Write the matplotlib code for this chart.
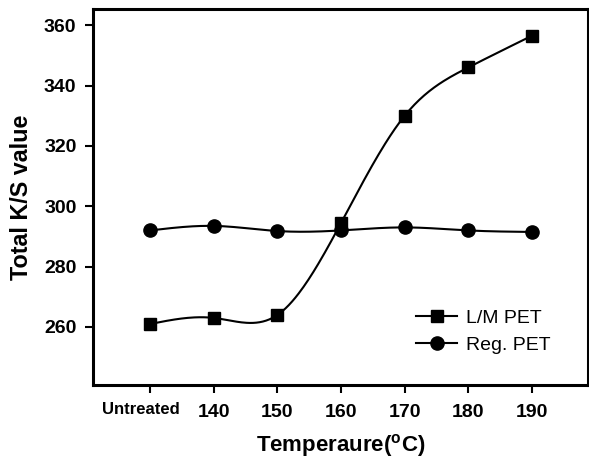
import matplotlib
matplotlib.use("Agg")
import matplotlib.pyplot as plt
import matplotlib.transforms as mtransforms
import numpy as np

plt.rcParams['font.family'] = ['Liberation Sans', 'DejaVu Sans']
plt.rcParams['mathtext.fontset'] = 'custom'
plt.rcParams['mathtext.rm'] = 'Liberation Sans:bold'

# data
categories = ['Untreated', '140', '150', '160', '170', '180', '190']
lm_pet = [261, 263, 264, 294.5, 330, 346, 356.5]
reg_pet = [292, 293.5, 291.8, 292, 293, 292, 291.5]


def smooth(x, y, n=40):
    # natural cubic spline through the points, for the curved connecting line
    x = np.asarray(x, float)
    y = np.asarray(y, float)
    k = len(x)
    h = np.diff(x)
    A = np.zeros((k, k))
    b = np.zeros(k)
    A[0, 0] = A[-1, -1] = 1
    for i in range(1, k - 1):
        A[i, i - 1] = h[i - 1]
        A[i, i] = 2 * (h[i - 1] + h[i])
        A[i, i + 1] = h[i]
        b[i] = 3 * ((y[i + 1] - y[i]) / h[i] - (y[i] - y[i - 1]) / h[i - 1])
    c = np.linalg.solve(A, b)
    xs, ys = [], []
    for i in range(k - 1):
        t = np.linspace(0, h[i], n)
        bi = (y[i + 1] - y[i]) / h[i] - h[i] * (2 * c[i] + c[i + 1]) / 3
        di = (c[i + 1] - c[i]) / (3 * h[i])
        xs.append(x[i] + t)
        ys.append(y[i] + bi * t + c[i] * t ** 2 + di * t ** 3)
    return np.concatenate(xs), np.concatenate(ys)


x = np.arange(len(categories))

fig = plt.figure(figsize=(5.89, 4.61), dpi=100)
ax = fig.add_axes([0.158, 0.165, 0.840, 0.815])

for vals, mk, ms, lab in [(lm_pet, 's', 9, 'L/M PET'), (reg_pet, 'o', 9.5, 'Reg. PET')]:
    sx, sy = smooth(x, vals)
    ax.plot(sx, sy, color='black', lw=1.5)
    ax.plot(x, vals, linestyle='none', marker=mk, ms=ms, color='black')
    ax.plot([], [], color='black', lw=1.5, marker=mk, ms=ms, label=lab)

ax.set_xlim(-0.9, 6.88)
ax.set_ylim(240.8, 365.3)
ax.set_yticks(range(260, 361, 20))
ax.set_xticks(x)
ax.set_xticklabels(categories)

for s in ax.spines.values():
    s.set_linewidth(2.2)
ax.tick_params(axis='both', direction='out', width=1.5, length=6, labelsize=14)
ax.tick_params(axis='x', pad=8)
ax.tick_params(axis='y', pad=6)
for lbl in ax.get_xticklabels() + ax.get_yticklabels():
    lbl.set_fontweight('bold')
first = ax.get_xticklabels()[0]
first.set_fontsize(12)
first.set_transform(first.get_transform() +
                    mtransforms.ScaledTranslation(-0.09, 0.02, fig.dpi_scale_trans))

ax.set_ylabel('Total K/S value', fontsize=16.8, fontweight='bold', labelpad=8)
ax.set_xlabel(r'Temperaure($^{\mathrm{o}}$C)', fontsize=16, fontweight='bold', labelpad=8)

ax.legend(loc='lower right', bbox_to_anchor=(0.96, 0.035), frameon=False,
          fontsize=14, handlelength=2.1, handletextpad=0.45, labelspacing=0.5)

fig.savefig('out.png', dpi=100)
